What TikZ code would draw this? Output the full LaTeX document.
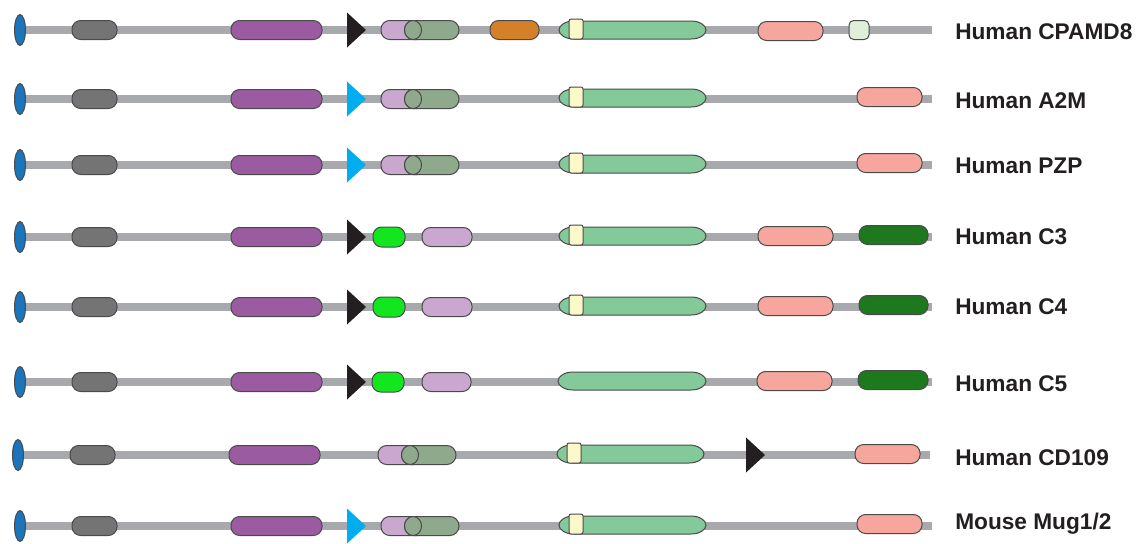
\documentclass[tikz,border=0pt]{standalone}
\usepackage{fontspec}
\setmainfont{Liberation Sans}
\definecolor{linegray}{HTML}{A7A9AC}
\definecolor{sigblue}{HTML}{1B75BB}
\definecolor{dgray}{HTML}{737473}
\definecolor{mgpurple}{HTML}{9B5BA0}
\definecolor{lpurple}{HTML}{C9A7CF}
\definecolor{ggreen}{HTML}{8FA98C}
\definecolor{orng}{HTML}{D38028}
\definecolor{mint}{HTML}{83C99A}
\definecolor{cream}{HTML}{FCF8CA}
\definecolor{salmon}{HTML}{F6A69C}
\definecolor{palegreen}{HTML}{E0EFD9}
\definecolor{bgreen}{HTML}{12E61E}
\definecolor{dkgreen}{HTML}{1E781E}
\definecolor{cyanb}{HTML}{00AEEF}
\definecolor{tblack}{HTML}{231F20}
\definecolor{edge}{HTML}{4A4A4A}
\tikzset{
  outl/.style={draw=edge, line width=0.75pt},
  backbone/.style={draw=linegray, line width=6.5pt},
  lbl/.style={anchor=base west, inner sep=0pt, text=tblack, font=\fontsize{17}{19}\selectfont\bfseries},
}
% pill: x1 x2 y height color
\newcommand\pill[5]{\draw[outl, fill=#5, rounded corners=6.5pt] (#1,#3-#4/2) rectangle (#2,#3+#4/2);}
% small rounded box: x1 x2 y height color
\newcommand\sqbox[5]{\draw[outl, fill=#5, rounded corners=3.5pt] (#1,#3-#4/2) rectangle (#2,#3+#4/2);}
% triangle: x y color
\newcommand\tri[3]{\fill[#3] (#1,#2-17.5) -- (#1+19,#2) -- (#1,#2+17.5) -- cycle;}
% signal peptide: x y
\newcommand\sig[2]{\draw[outl, fill=sigblue] (#1,#2) ellipse[x radius=4.1pt, y radius=11.6pt];}
% long domain: x1 x2 y
\newcommand\lens[3]{\draw[outl, fill=mint] (#1+15,#3-9) -- (#2-15,#3-9) arc[start angle=90,end angle=-90,x radius=11.25pt,y radius=6.75pt] -- (#1+15,#3+9) arc[start angle=270,end angle=90,x radius=11.25pt,y radius=6.75pt] -- cycle;}
% thioester box: x y
\newcommand\thio[2]{\draw[outl, fill=cream, rounded corners=1.5pt] (#1,#2-10) rectangle (#1+14,#2+10);}
% cylinder pair: x (start of light purple) y
\newcommand\cyl[2]{%
  \pill{#1}{#1+45}{#2}{19}{lpurple}
  \draw[outl, fill=ggreen] (#1+32,#2-9.5) -- (#1+69,#2-9.5) arc[start angle=90,end angle=-90,x radius=6.75pt,y radius=7.125pt] -- (#1+32,#2+9.5) arc[start angle=270,end angle=90,x radius=6.4pt,y radius=7.125pt] -- cycle;
  \draw[outl, fill=ggreen] (#1+32,#2) ellipse[x radius=6.4pt,y radius=7.125pt];}
% common N-terminal part: dx y
\newcommand\nterm[2]{%
  \draw[backbone] (14+#1,#2) -- (932+#1,#2);
  \sig{20+#1}{#2}
  \pill{72+#1}{117+#1}{#2}{19}{dgray}
  \pill{231+#1}{322+#1}{#2}{19}{mgpurple}}
\begin{document}
\begin{tikzpicture}[x=0.75pt,y=-0.75pt]
\useasboundingbox (0,0) rectangle (1141,543);
% Row 1: CPAMD8
\nterm{0}{30}
\tri{347}{30}{tblack}
\cyl{381}{30}
\pill{490}{539}{30}{19}{orng}
\lens{559}{706}{30}
\thio{569}{29}
\pill{758}{823}{31}{19}{salmon}
\sqbox{849}{869}{30}{19}{palegreen}
\node[lbl] (l1) at (955,39) {Human CPAMD8};
% Row 2: A2M
\nterm{0}{99}
\tri{347}{99}{cyanb}
\cyl{381}{99}
\lens{559}{706}{98}
\thio{569}{97}
\pill{857}{922}{97}{19}{salmon}
\node[lbl] (l2) at (955,108) {Human A2M};
% Row 3: PZP
\nterm{0}{165}
\tri{347}{165}{cyanb}
\cyl{381}{165}
\lens{559}{706}{164}
\thio{569}{163}
\pill{857}{922}{163}{19}{salmon}
\node[lbl] (l3) at (955,173) {Human PZP};
% Row 4: C3
\nterm{0}{237}
\tri{347}{237}{tblack}
\pill{373}{405}{237}{20}{bgreen}
\pill{422}{472}{237}{19}{lpurple}
\lens{559}{706}{236}
\thio{569}{235}
\pill{758}{833}{236}{19}{salmon}
\pill{859}{928}{235}{19}{dkgreen}
\node[lbl] (l4) at (955,244) {Human C3};
% Row 5: C4
\nterm{0}{307}
\tri{347}{307}{tblack}
\pill{373}{405}{307}{20}{bgreen}
\pill{422}{472}{307}{19}{lpurple}
\lens{559}{706}{306}
\thio{569}{305}
\pill{758}{833}{306}{19}{salmon}
\pill{859}{928}{305}{19}{dkgreen}
\node[lbl] (l5) at (955,314) {Human C4};
% Row 6: C5
\nterm{0}{382}
\tri{347}{382}{tblack}
\pill{372}{404}{382}{20}{bgreen}
\pill{422}{471}{382}{19}{lpurple}
\lens{558}{706}{381}
\pill{757}{832}{381}{19}{salmon}
\pill{858}{928}{380}{19}{dkgreen}
\node[lbl] (l6) at (955,391) {Human C5};
% Row 7: CD109
\nterm{-2}{455}
\cyl{378}{455}
\lens{557}{704}{454}
\thio{567}{453}
\tri{746}{455}{tblack}
\pill{855}{920}{454}{19}{salmon}
\node[lbl] (l7) at (955,465) {Human CD109};
% Row 8: Mouse Mug1/2
\nterm{0}{526}
\tri{347}{526}{cyanb}
\cyl{381}{526}
\lens{559}{706}{525}
\thio{569}{524}
\pill{857}{922}{524}{19}{salmon}
\node[lbl] (l8) at (955,529) {Mouse Mug1/2};
\end{tikzpicture}
\end{document}
